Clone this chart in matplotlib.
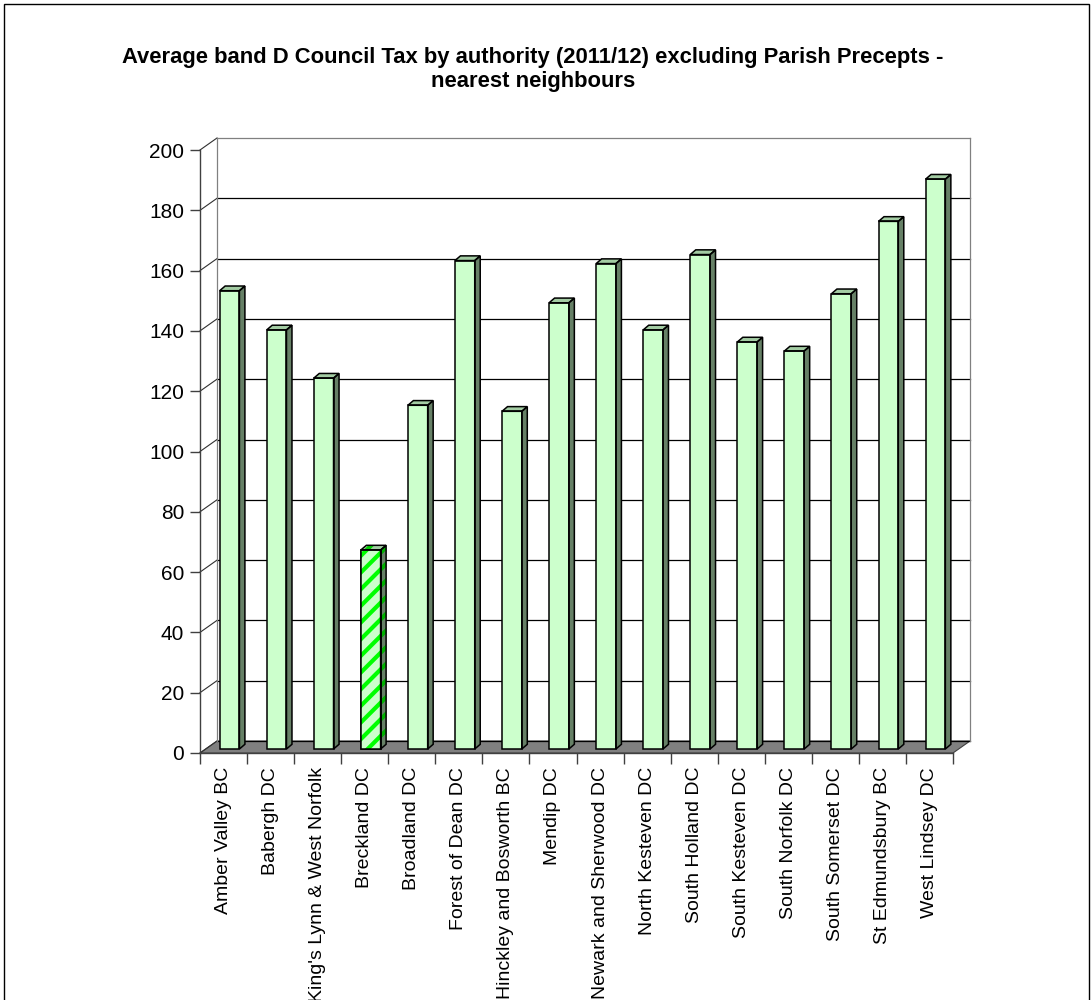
import numpy as np
import matplotlib
matplotlib.use('Agg')
import matplotlib.pyplot as plt
from matplotlib.patches import Polygon, Rectangle

authorities = ['Amber Valley BC', 'Babergh DC', "King's Lynn & West Norfolk",
               'Breckland DC', 'Broadland DC', 'Forest of Dean DC',
               'Hinckley and Bosworth BC', 'Mendip DC', 'Newark and Sherwood DC',
               'North Kesteven DC', 'South Holland DC', 'South Kesteven DC',
               'South Norfolk DC', 'South Somerset DC', 'St Edmundsbury BC',
               'West Lindsey DC']
band_d = [152, 139, 123, 66, 114, 162, 112, 148, 161, 139, 164, 135, 132, 151, 175, 189]
highlight = 'Breckland DC'
yticks = list(range(0, 201, 20))

plt.rcParams['font.family'] = ['Liberation Sans', 'DejaVu Sans']
plt.rcParams['hatch.linewidth'] = 3.0

fig = plt.figure(figsize=(10.92, 10), dpi=100)
ax = fig.add_axes([200/1092, 247/1000, 753/1092, 603/1000])
ax.set_xlim(0, len(authorities))
ax.set_ylim(0, 200)

# pixel -> data conversion for the fake 3d offsets
px_x = len(authorities) / 753.0
px_y = 200 / 603.0
wall_dx, wall_dy = 17 * px_x, 12 * px_y      # depth of floor / back wall
bar_dx, bar_dy = 6 * px_x, 4 * px_y          # bar front face offset
dep_dx, dep_dy = 5.5 * px_x, 4.7 * px_y      # bar depth

n = len(authorities)
kw = dict(clip_on=False)

# floor
ax.add_patch(Polygon([(0, 0), (n, 0), (n + wall_dx, wall_dy), (wall_dx, wall_dy)],
                     closed=True, facecolor='#808080', edgecolor='#404040', lw=0.8, zorder=1, **kw))

# back wall gridlines and left wall diagonals
for v in yticks:
    col = '#808080' if v == 200 else '#000000'
    ax.plot([wall_dx, n + wall_dx], [v + wall_dy, v + wall_dy], color=col, lw=0.9, zorder=1.5, **kw)
    ax.plot([0, wall_dx], [v, v + wall_dy], color='#303030', lw=0.8, zorder=1.5, **kw)
ax.plot([wall_dx, wall_dx], [wall_dy, 200 + wall_dy], color='#808080', lw=0.9, zorder=1.5, **kw)
ax.plot([n + wall_dx, n + wall_dx], [wall_dy, 200 + wall_dy], color='#808080', lw=0.9, zorder=1.5, **kw)

# bars
width = 0.42
centers = np.arange(n) + 0.5 + bar_dx
for i, (name, v) in enumerate(zip(authorities, band_d)):
    x0 = centers[i] - width / 2
    x1 = centers[i] + width / 2
    y0 = bar_dy
    y1 = v + bar_dy
    hi = name == highlight
    side = [(x1, y0), (x1 + dep_dx, y0 + dep_dy), (x1 + dep_dx, y1 + dep_dy), (x1, y1)]
    top = [(x0, y1), (x0 + dep_dx, y1 + dep_dy), (x1 + dep_dx, y1 + dep_dy), (x1, y1)]
    if hi:
        ax.add_patch(Polygon(side, facecolor='#668066', edgecolor='#00B000', lw=0, hatch='//', zorder=3, **kw))
        ax.add_patch(Polygon(top, facecolor='#A3CCA3', edgecolor='#00CC00', lw=0, hatch='//', zorder=3, **kw))
    else:
        ax.add_patch(Polygon(side, facecolor='#668066', lw=0, zorder=3, **kw))
        ax.add_patch(Polygon(top, facecolor='#A3CCA3', lw=0, zorder=3, **kw))
    ax.add_patch(Polygon(side, fill=False, edgecolor='black', lw=1.1, zorder=3.1, **kw))
    ax.add_patch(Polygon(top, fill=False, edgecolor='black', lw=1.1, zorder=3.1, **kw))

colors = ['#CCFFCC'] * n
ax.bar(centers, band_d, bottom=bar_dy, width=width, color=colors, edgecolor='black', lw=1.1, zorder=3)
hi_idx = authorities.index(highlight)
ax.bar(centers[hi_idx], band_d[hi_idx], bottom=bar_dy, width=width, color='#CCFFCC',
       edgecolor='#00FF00', lw=0, hatch='//', zorder=3.05)
ax.bar(centers[hi_idx], band_d[hi_idx], bottom=bar_dy, width=width, fill=False,
       edgecolor='black', lw=1.1, zorder=3.1)

# axes styling
for s in ['top', 'right']:
    ax.spines[s].set_visible(False)
for s in ['left', 'bottom']:
    ax.spines[s].set_color('#404040')
    ax.spines[s].set_linewidth(1.0)
    ax.spines[s].set_zorder(4)
ax.patch.set_alpha(0)

ax.set_yticks(yticks)
ax.tick_params(axis='y', length=7.5, width=1, color='#404040', labelsize=15, pad=4)
ax.set_xticks(np.arange(n) + 0.5)
ax.set_xticklabels(authorities, rotation=90, fontsize=14, va='top', ha='center')
ax.set_xticks(np.arange(n + 1), minor=True)
ax.tick_params(axis='x', which='major', length=0, pad=10)
ax.tick_params(axis='x', which='minor', length=8, width=1, color='#404040')

fig.text(533/1092, 1 - 69.5/1000,
         'Average band D Council Tax by authority (2011/12) excluding Parish Precepts -\nnearest neighbours',
         ha='center', va='center', fontsize=15.8, fontweight='bold', linespacing=1.15)

fig.patches.append(Rectangle((3.5/1092, -0.01), 1085/1092, 1 - 4.5/1000 + 0.01, transform=fig.transFigure,
                             fill=False, edgecolor='black', lw=1.0))

plt.savefig('out.png', dpi=100)
